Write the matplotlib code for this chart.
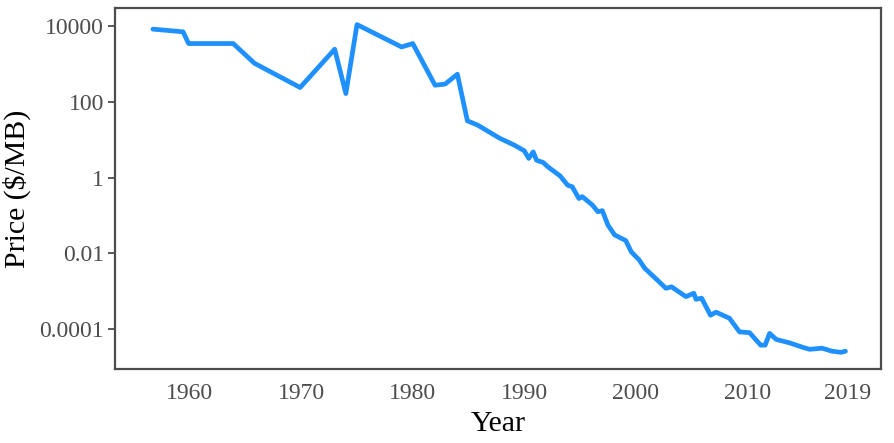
import matplotlib
matplotlib.use("Agg")
import matplotlib.pyplot as plt
import numpy as np

years = [1956.7, 1959.4, 1959.9, 1963.9, 1965.8, 1969.9, 1973.0, 1974.0, 1975.0, 1979.0,
         1980.0, 1982.0, 1982.9, 1984.0, 1984.9, 1985.8, 1987.8, 1989.1, 1990.0, 1990.4,
         1990.8, 1991.1, 1991.7, 1992.1, 1993.2, 1993.9, 1994.3, 1994.9, 1995.2, 1996.1,
         1996.6, 1997.0, 1997.5, 1998.1, 1999.1, 1999.6, 2000.3, 2000.8, 2002.1, 2002.7,
         2003.2, 2004.5, 2005.2, 2005.4, 2005.9, 2006.7, 2007.2, 2008.4, 2009.3, 2010.2,
         2011.2, 2011.6, 2012.0, 2012.6, 2013.8, 2015.0, 2015.6, 2016.7, 2017.6, 2018.4,
         2018.8]
log_price = [3.92, 3.85, 3.54, 3.54, 3.02, 2.38, 3.39, 2.22, 4.04, 3.45,
             3.54, 2.44, 2.47, 2.73, 1.50, 1.39, 1.04, 0.86, 0.71, 0.51,
             0.68, 0.46, 0.40, 0.29, 0.05, -0.20, -0.24, -0.55, -0.50, -0.72,
             -0.90, -0.87, -1.25, -1.51, -1.66, -1.96, -2.17, -2.39, -2.75, -2.92,
             -2.88, -3.14, -3.05, -3.21, -3.18, -3.63, -3.55, -3.71, -4.07, -4.09,
             -4.42, -4.42, -4.11, -4.27, -4.36, -4.48, -4.53, -4.50, -4.58, -4.61,
             -4.58]
price = [10 ** v for v in log_price]

x_ticks = [1960, 1970, 1980, 1990, 2000, 2010, 2019]
y_ticks = [1e4, 1e2, 1, 1e-2, 1e-4]
y_tick_labels = ["10000", "100", "1", "0.01", "0.0001"]

plt.rcParams['font.family'] = ['Liberation Serif', 'DejaVu Serif']

fig = plt.figure(figsize=(8.95, 4.43), dpi=100)
ax = fig.add_axes([0.1285, 0.167, 0.856, 0.814])
ax.plot(years, price, color='#1E90FF', lw=3.4, solid_joinstyle='round',
        solid_capstyle='round')
ax.set_yscale('log')
ax.set_xlim(1953.3, 2022.0)
ax.set_ylim(10 ** -5.05, 10 ** 4.467)
ax.set_xticks(x_ticks)
ax.set_xticklabels([str(t) for t in x_ticks])
ax.set_yticks(y_ticks)
ax.set_yticklabels(y_tick_labels)
ax.yaxis.set_minor_locator(matplotlib.ticker.NullLocator())
ax.tick_params(axis='x', length=0, pad=10, labelsize=17, labelcolor='#4d4d4d')
ax.tick_params(axis='y', length=5, width=1.3, color='#4d4d4d', pad=3,
               labelsize=17, labelcolor='#4d4d4d', direction='out')
for s in ax.spines.values():
    s.set_color('#4d4d4d')
    s.set_linewidth(1.6)
ax.set_xlabel('Year', fontsize=21.5, color='black', labelpad=5)
ax.set_ylabel('Price (\\$/MB)', fontsize=21.5, color='black', labelpad=6)
fig.savefig('out.png', dpi=100, facecolor='white')
